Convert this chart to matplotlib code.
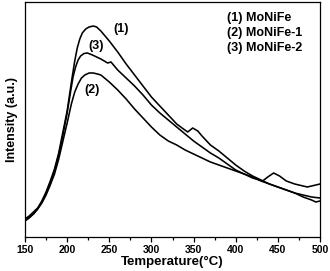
import matplotlib
matplotlib.use("Agg")
import matplotlib.pyplot as plt
from matplotlib.ticker import MultipleLocator

plt.rcParams['font.family'] = ['Liberation Sans', 'DejaVu Sans']

# Temperature (°C) and intensity (a.u.)
T1 = [150, 155, 160, 165, 170, 175, 180, 185, 190, 195, 200, 203, 206, 209, 212, 215, 218, 222, 226,
      231, 235, 240, 250, 260, 270, 280, 290, 300, 310, 320, 330, 338, 343, 349, 355, 360, 370, 380,
      390, 400, 410, 420, 430, 440, 450, 460, 470, 480, 490, 500]
I1 = [18, 21, 25, 29, 36, 45, 56, 68, 84, 105, 126, 143, 160, 176, 189, 198, 204, 208, 210,
      211, 210, 206, 196, 185, 173, 162, 151, 140, 131, 122, 113, 108, 105, 109, 106, 101, 92, 86,
      79, 72, 66, 61, 57, 53, 50, 47, 44, 42, 40, 39]

T2 = [150, 155, 160, 165, 170, 175, 180, 185, 190, 195, 200, 205, 209, 213, 217, 221, 226, 231, 236,
      240, 250, 260, 270, 280, 290, 300, 310, 320, 330, 340, 350, 360, 370, 380, 390, 400,
      410, 420, 430, 440, 450, 460, 470, 480, 490, 495, 500]
I2 = [18, 20, 23, 28, 34, 42, 52, 63, 78, 96, 114, 133, 145, 153, 159, 162, 164, 164, 163,
      162, 155, 147, 138, 128, 119, 110, 102, 96, 92, 87, 83, 79, 75, 72, 69, 66,
      63, 60, 56, 53, 50, 47, 44, 40, 37, 35, 36]

T3 = [150, 155, 160, 165, 170, 175, 180, 185, 190, 195, 200, 204, 207, 210, 213, 216, 220, 224, 230,
      240, 248, 252, 256, 260, 270, 280, 290, 300, 310, 320, 330, 340, 350, 360, 370, 380, 390,
      400, 410, 420, 432, 438, 445, 452, 460, 470, 480, 485, 490, 495, 500]
I3 = [16, 19, 23, 28, 35, 44, 54, 66, 82, 102, 124, 145, 160, 170, 177, 181, 183.5, 184, 182,
      178, 174, 175, 171, 167, 159, 151, 142, 132, 124, 117, 110, 103, 96, 90, 84, 79, 73,
      67, 63, 59, 56, 60, 64, 61, 56, 53, 51, 50, 51, 52, 53]

labels = ['(1) MoNiFe', '(2) MoNiFe-1', '(3) MoNiFe-2']
xticks = [150, 200, 250, 300, 350, 400, 450, 500]

fig = plt.figure(figsize=(3.30, 2.71), dpi=100)
ax = fig.add_axes([25/330, (271-237)/271, 295/330, 235/271])

for T, I in [(T1, I1), (T2, I2), (T3, I3)]:
    ax.plot(T, I, color='black', lw=1.15)

ax.set_xlim(150, 500)
ax.set_ylim(0, 235)
ax.set_xticks(xticks)
ax.xaxis.set_minor_locator(MultipleLocator(25))
ax.set_yticks([])
ax.tick_params(axis='x', which='major', direction='out', length=3.5, width=0.9, pad=2,
               labelsize=7.5)
ax.tick_params(axis='x', which='minor', direction='out', length=2, width=0.9)
for lab in ax.get_xticklabels():
    lab.set_fontweight('bold')
for s in ax.spines.values():
    s.set_linewidth(0.9)

ax.set_xlabel('Temperature(°C)', fontsize=9.5, fontweight='bold', labelpad=1)
ax.set_ylabel('Intensity (a.u.)', fontsize=9, fontweight='bold', labelpad=5)

# curve labels
ax.text(264, 208, '(1)', fontsize=9, fontweight='bold', ha='center', va='center')
ax.text(234, 191, '(3)', fontsize=9, fontweight='bold', ha='center', va='center')
ax.text(230, 147, '(2)', fontsize=9, fontweight='bold', ha='center', va='center')

# legend text
for k, lab in enumerate(labels):
    ax.text(390, 219 - 15 * k, lab, fontsize=9, fontweight='bold', ha='left', va='center')

fig.savefig('out.png', dpi=100)
